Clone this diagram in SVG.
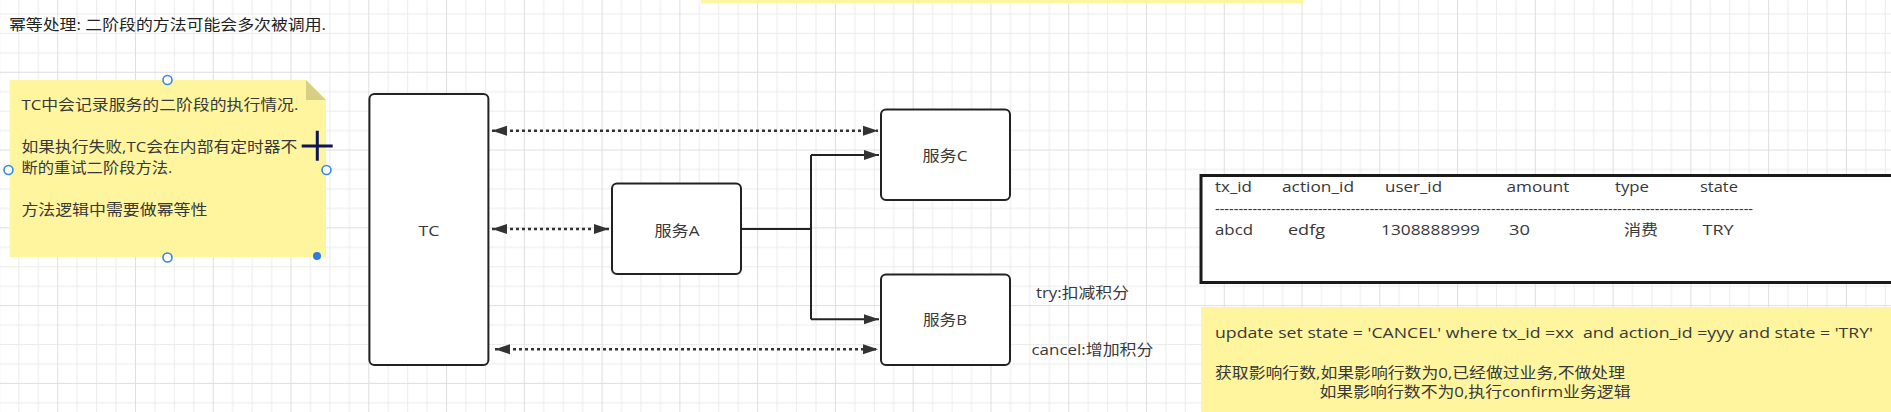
<svg xmlns="http://www.w3.org/2000/svg" width="1891" height="412" viewBox="0 0 1891 412">
<defs>
<style>
.t{font-family:"Open Sans","Noto Sans CJK SC",sans-serif;font-size:15px;fill:#383838;}
.box{fill:#fff;stroke:#222;stroke-width:2;}
.dot{fill:none;stroke:#333;stroke-width:2.5;stroke-dasharray:3 3;}
.solid{fill:none;stroke:#222;stroke-width:2;}
.note{fill:#fff59f;}
.handle{fill:#fff;stroke:#3a86e0;stroke-width:1.6;}
</style>
<pattern id="grid" patternUnits="userSpaceOnUse" x="57.2" y="71.8" width="77.77" height="77.77">
<path d="M19.94,0V77.77M39.38,0V77.77M58.83,0V77.77M0,19.94H77.77M0,39.38H77.77M0,58.83H77.77" stroke="#ececec" stroke-width="1"/>
<path d="M0.5,0V77.77M0,0.5H77.77" stroke="#dedede" stroke-width="1"/>
</pattern>
<marker id="ah" markerUnits="userSpaceOnUse" markerWidth="16" markerHeight="11" refX="15" refY="5" orient="auto-start-reverse" overflow="visible">
<path d="M0,0L15,5L0,10z" fill="#333"/>
</marker>
</defs>
<rect width="1891" height="412" fill="#fff"/>
<rect width="1891" height="412" fill="url(#grid)"/>

<g id="topbar"><rect x="701" y="0" width="602" height="3.5" fill="#fff59f"/></g>

<g id="title"><text class="t" x="9" y="30" textLength="317" lengthAdjust="spacingAndGlyphs" style="fill:#222">幂等处理: 二阶段的方法可能会多次被调用.</text></g>

<g id="note">
<path class="note" d="M9.6,80H306L326,100V257H9.6Z"/>
<path d="M306,80V100H326Z" fill="#d8cf86"/>
<text class="t" x="21.4" y="110" textLength="277" lengthAdjust="spacingAndGlyphs">TC中会记录服务的二阶段的执行情况.</text>
<text class="t" x="21.4" y="152" textLength="276" lengthAdjust="spacingAndGlyphs">如果执行失败,TC会在内部有定时器不</text>
<text class="t" x="21.4" y="173" textLength="151" lengthAdjust="spacingAndGlyphs">断的重试二阶段方法.</text>
<text class="t" x="21.4" y="215" textLength="186" lengthAdjust="spacingAndGlyphs">方法逻辑中需要做幂等性</text>
<circle class="handle" cx="167.5" cy="80" r="4.5"/>
<circle class="handle" cx="8.5" cy="170" r="4.5"/>
<circle class="handle" cx="326.5" cy="170" r="4.5"/>
<circle class="handle" cx="167.5" cy="257.5" r="4.5"/>
<circle cx="317" cy="256" r="4" fill="#2a7de1"/>
<path d="M301.7,146H332.7M317.3,130.7V160.7" stroke="#0b1557" stroke-width="3"/>
</g>

<g id="connectors">
<line class="dot" x1="492" y1="130.7" x2="878" y2="130.7" marker-start="url(#ah)" marker-end="url(#ah)"/>
<line class="dot" x1="492" y1="229" x2="609" y2="229" marker-start="url(#ah)" marker-end="url(#ah)"/>
<line class="dot" x1="495" y1="349.3" x2="878" y2="349.3" marker-start="url(#ah)" marker-end="url(#ah)"/>
<path class="solid" d="M741,229H811M811,155V319.3"/>
<path class="solid" d="M811,155H879" marker-end="url(#ah)"/>
<path class="solid" d="M811,319.3H879" marker-end="url(#ah)"/>
</g>

<g id="tc">
<rect class="box" x="369.4" y="94" width="119" height="271" rx="5"/>
<text class="t" x="429" y="235.5" text-anchor="middle" textLength="21" lengthAdjust="spacingAndGlyphs">TC</text>
</g>
<g id="serviceA">
<rect class="box" x="612" y="183.5" width="129" height="90.5" rx="5"/>
<text class="t" x="677" y="235.5" text-anchor="middle" textLength="45" lengthAdjust="spacingAndGlyphs">服务A</text>
</g>
<g id="serviceC">
<rect class="box" x="881" y="109.5" width="129" height="90.5" rx="5"/>
<text class="t" x="945" y="160.5" text-anchor="middle" textLength="45" lengthAdjust="spacingAndGlyphs">服务C</text>
</g>
<g id="serviceB">
<rect class="box" x="881" y="274.5" width="129" height="90.5" rx="5"/>
<text class="t" x="945" y="325" text-anchor="middle" textLength="44" lengthAdjust="spacingAndGlyphs">服务B</text>
</g>
<g id="labelTry"><text class="t" x="1036" y="297.5" textLength="93" lengthAdjust="spacingAndGlyphs">try:扣减积分</text></g>
<g id="labelCancel"><text class="t" x="1031.5" y="354.5" textLength="122" lengthAdjust="spacingAndGlyphs">cancel:增加积分</text></g>

<g id="table">
<rect x="1201" y="175.5" width="720" height="107" fill="#fff" stroke="#1a1a1a" stroke-width="3"/>
<text class="t" x="1215" y="192" textLength="37" lengthAdjust="spacingAndGlyphs">tx_id</text>
<text class="t" x="1282" y="192" textLength="72" lengthAdjust="spacingAndGlyphs">action_id</text>
<text class="t" x="1385" y="192" textLength="57" lengthAdjust="spacingAndGlyphs">user_id</text>
<text class="t" x="1506.5" y="192" textLength="63" lengthAdjust="spacingAndGlyphs">amount</text>
<text class="t" x="1615" y="192" textLength="34" lengthAdjust="spacingAndGlyphs">type</text>
<text class="t" x="1700" y="192" textLength="38" lengthAdjust="spacingAndGlyphs">state</text>
<text class="t" x="1215" y="214" textLength="538" lengthAdjust="spacingAndGlyphs">-------------------------------------------------------------------------------------------------------------------</text>
<text class="t" x="1215" y="234.5" textLength="38" lengthAdjust="spacingAndGlyphs">abcd</text>
<text class="t" x="1288" y="234.5" textLength="37" lengthAdjust="spacingAndGlyphs">edfg</text>
<text class="t" x="1381" y="234.5" textLength="99" lengthAdjust="spacingAndGlyphs">1308888999</text>
<text class="t" x="1509" y="234.5" textLength="21" lengthAdjust="spacingAndGlyphs">30</text>
<text class="t" x="1624" y="234.5" textLength="34" lengthAdjust="spacingAndGlyphs">消费</text>
<text class="t" x="1702.5" y="234.5" textLength="31" lengthAdjust="spacingAndGlyphs">TRY</text>
</g>

<g id="sqlNote">
<rect class="note" x="1201" y="307" width="690" height="105"/>
<text class="t" x="1215" y="338" textLength="658" lengthAdjust="spacingAndGlyphs" xml:space="preserve">update set state = 'CANCEL' where tx_id =xx  and action_id =yyy and state = 'TRY'</text>
<text class="t" x="1215" y="378" textLength="410" lengthAdjust="spacingAndGlyphs">获取影响行数,如果影响行数为0,已经做过业务,不做处理</text>
<text class="t" x="1319.5" y="397" textLength="311" lengthAdjust="spacingAndGlyphs">如果影响行数不为0,执行confirm业务逻辑</text>
</g>
</svg>
